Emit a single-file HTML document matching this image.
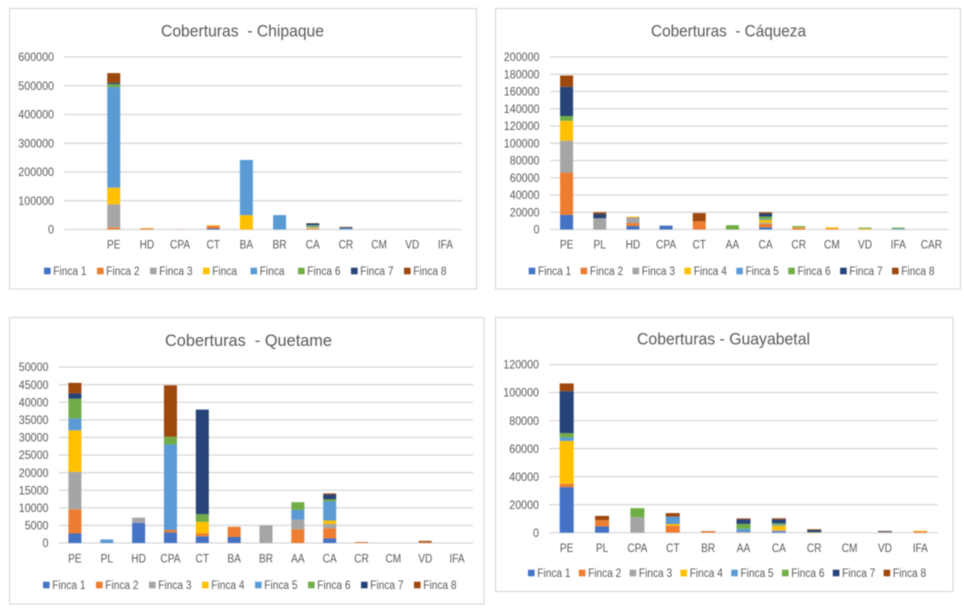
<!DOCTYPE html>
<html lang="es">
<head>
<meta charset="utf-8">
<title>Coberturas</title>
<style>
html,body{margin:0;padding:0;background:#fff;width:964px;height:616px;overflow:hidden}
svg{display:block;filter:blur(0.45px)}
text{font-family:"Liberation Sans",sans-serif;fill:#595959;white-space:pre}
</style>
</head>
<body>
<svg id="board" width="964" height="616" viewBox="0 0 964 616" xmlns="http://www.w3.org/2000/svg"></svg>
<script>
// ---- Chipaque ----
const chipaqueCategories = ['', 'PE', 'HD', 'CPA', 'CT', 'BA', 'BR', 'CA', 'CR', 'CM', 'VD', 'IFA'];
const chipaqueTicks = [0, 100000, 200000, 300000, 400000, 500000, 600000];
const chipaqueLegend = ['Finca 1', 'Finca 2', 'Finca 3', 'Finca', 'Finca', 'Finca 6', 'Finca 7', 'Finca 8'];
const chipaqueF1 = [0, 500, 0, 0, 3500, 0, 0, 0, 0, 0, 0, 0];
const chipaqueF2 = [0, 7000, 4000, 500, 9500, 0, 0, 2500, 0, 0, 0, 0];
const chipaqueF3 = [0, 80000, 0, 0, 0, 0, 0, 2000, 0, 0, 0, 0];
const chipaqueF4 = [0, 58000, 1000, 0, 2000, 50000, 0, 3500, 0, 0, 0, 0];
const chipaqueF5 = [0, 350000, 0, 0, 0, 192000, 50000, 4000, 5000, 0, 0, 0];
const chipaqueF6 = [0, 10000, 0, 0, 0, 0, 0, 3000, 0, 0, 0, 0];
const chipaqueF7 = [0, 4500, 0, 0, 0, 0, 0, 6000, 2000, 0, 0, 0];
const chipaqueF8 = [0, 34000, 0, 0, 0, 0, 0, 1000, 2000, 0, 0, 0];

// ---- Caqueza ----
const caquezaCategories = ['PE', 'PL', 'HD', 'CPA', 'CT', 'AA', 'CA', 'CR', 'CM', 'VD', 'IFA', 'CAR'];
const caquezaTicks = [0, 20000, 40000, 60000, 80000, 100000, 120000, 140000, 160000, 180000, 200000];
const caquezaLegend = ['Finca 1', 'Finca 2', 'Finca 3', 'Finca 4', 'Finca 5', 'Finca 6', 'Finca 7', 'Finca 8'];
const caquezaF1 = [17000, 0, 4000, 4500, 0, 0, 2500, 0, 0, 0, 0, 0];
const caquezaF2 = [49000, 0, 3500, 0, 9500, 0, 4000, 2000, 1000, 0, 0, 0];
const caquezaF3 = [37000, 13000, 6500, 0, 0, 0, 1500, 0, 0, 0, 0, 0];
const caquezaF4 = [23000, 0, 1000, 0, 0, 0, 3000, 500, 1500, 1000, 0, 0];
const caquezaF5 = [0, 0, 0, 0, 0, 0, 1000, 0, 0, 0, 1000, 0];
const caquezaF6 = [5500, 0, 0, 0, 0, 5000, 3000, 1500, 0, 1200, 1200, 0];
const caquezaF7 = [34000, 5000, 0, 0, 0, 0, 3500, 0, 0, 0, 0, 0];
const caquezaF8 = [13000, 2000, 0, 0, 9500, 0, 1500, 0, 0, 0, 0, 0];

// ---- Quetame ----
const quetameCategories = ['PE', 'PL', 'HD', 'CPA', 'CT', 'BA', 'BR', 'AA', 'CA', 'CR', 'CM', 'VD', 'IFA'];
const quetameTicks = [0, 5000, 10000, 15000, 20000, 25000, 30000, 35000, 40000, 45000, 50000];
const quetameLegend = ['Finca 1', 'Finca 2', 'Finca 3', 'Finca 4', 'Finca 5', 'Finca 6', 'Finca 7', 'Finca 8'];
const quetameF1 = [2700, 0, 5700, 3000, 1900, 1700, 0, 0, 1300, 0, 0, 0, 0];
const quetameF2 = [6900, 0, 0, 700, 800, 2900, 0, 3900, 2900, 150, 0, 200, 0];
const quetameF3 = [10600, 0, 1500, 0, 0, 0, 5000, 2700, 1200, 0, 0, 0, 0];
const quetameF4 = [11800, 0, 0, 0, 3300, 0, 0, 0, 1000, 0, 0, 0, 0];
const quetameF5 = [3400, 1000, 0, 24300, 0, 0, 0, 2800, 5400, 0, 0, 0, 0];
const quetameF6 = [5600, 0, 0, 2200, 2200, 0, 0, 2200, 600, 0, 0, 0, 0];
const quetameF7 = [1500, 0, 0, 0, 29700, 0, 0, 0, 1400, 0, 0, 0, 0];
const quetameF8 = [3000, 0, 0, 14600, 0, 0, 0, 0, 300, 100, 0, 400, 0];

// ---- Guayabetal ----
const guayabetalCategories = ['PE', 'PL', 'CPA', 'CT', 'BR', 'AA', 'CA', 'CR', 'CM', 'VD', 'IFA'];
const guayabetalTicks = [0, 20000, 40000, 60000, 80000, 100000, 120000];
const guayabetalLegend = ['Finca 1', 'Finca 2', 'Finca 3', 'Finca 4', 'Finca 5', 'Finca 6', 'Finca 7', 'Finca 8'];
const guayabetalF1 = [32500, 4500, 0, 0, 0, 0, 800, 0, 0, 0, 0];
const guayabetalF2 = [2500, 4500, 0, 5000, 800, 300, 0, 0, 0, 0, 1000];
const guayabetalF3 = [0, 0, 11000, 0, 0, 0, 1000, 0, 0, 500, 0];
const guayabetalF4 = [30500, 0, 0, 1200, 0, 0, 3200, 300, 0, 0, 400];
const guayabetalF5 = [2500, 0, 0, 5300, 0, 2500, 700, 0, 0, 0, 0];
const guayabetalF6 = [3000, 0, 6500, 0, 0, 3500, 1000, 0, 0, 0, 0];
const guayabetalF7 = [30000, 0, 0, 0, 0, 3200, 2800, 1700, 0, 500, 0];
const guayabetalF8 = [5500, 3000, 0, 2500, 300, 700, 800, 500, 0, 300, 0];

const seriesColors = ['#4472C4', '#ED7D31', '#A5A5A5', '#FFC000', '#5B9BD5', '#70AD47', '#264478', '#9E480E'];

const charts = [
  { key: 'chipaque', title: 'Coberturas  - Chipaque', titleX: 161, titleW: 163, titleY: 36.5,
    frame: [9.5, 8.5, 467, 280.5], plot: [64, 57, 462, 229.5], barW: 13, tickRight: 54, catY: 248.5,
    cats: chipaqueCategories, ticks: chipaqueTicks, legend: chipaqueLegend,
    series: [chipaqueF1, chipaqueF2, chipaqueF3, chipaqueF4, chipaqueF5, chipaqueF6, chipaqueF7, chipaqueF8],
    legendX: 44, legendStep: 53, legendY: 271 },
  { key: 'caqueza', title: 'Coberturas  - Cáqueza', titleX: 651, titleW: 155, titleY: 36.5,
    frame: [495.5, 8.5, 465, 280.5], plot: [550, 57, 948, 229.5], barW: 13, tickRight: 539.5, catY: 248.5,
    cats: caquezaCategories, ticks: caquezaTicks, legend: caquezaLegend,
    series: [caquezaF1, caquezaF2, caquezaF3, caquezaF4, caquezaF5, caquezaF6, caquezaF7, caquezaF8],
    legendX: 528.7, legendStep: 51.9, legendY: 271 },
  { key: 'quetame', title: 'Coberturas  - Quetame', titleX: 165, titleW: 167, titleY: 346,
    frame: [9.5, 317.5, 474.5, 286.5], plot: [59, 367, 473, 543], barW: 13, tickRight: 48.5, catY: 562.5,
    cats: quetameCategories, ticks: quetameTicks, legend: quetameLegend,
    series: [quetameF1, quetameF2, quetameF3, quetameF4, quetameF5, quetameF6, quetameF7, quetameF8],
    legendX: 43, legendStep: 53, legendY: 585 },
  { key: 'guayabetal', title: 'Coberturas - Guayabetal', titleX: 637, titleW: 173, titleY: 344.5,
    frame: [495.5, 317.5, 457.5, 274], plot: [549, 364.5, 938, 532.7], barW: 14, tickRight: 539, catY: 552,
    cats: guayabetalCategories, ticks: guayabetalTicks, legend: guayabetalLegend,
    series: [guayabetalF1, guayabetalF2, guayabetalF3, guayabetalF4, guayabetalF5, guayabetalF6, guayabetalF7, guayabetalF8],
    legendX: 528, legendStep: 50.8, legendY: 573 }
];

const SVG_NS = 'http://www.w3.org/2000/svg';
const board = document.getElementById('board');

function make(parent, tag, attrs) {
  const node = document.createElementNS(SVG_NS, tag);
  Object.keys(attrs).forEach(function (k) { node.setAttribute(k, attrs[k]); });
  parent.appendChild(node);
  return node;
}

function label(parent, str, x, y, size, anchor, squeeze) {
  const t = make(parent, 'text', { x: x, y: y, 'font-size': size, 'text-anchor': anchor });
  t.textContent = str;
  if (str.trim() && squeeze) {
    t.setAttribute('textLength', (t.getComputedTextLength() * squeeze).toFixed(2));
    t.setAttribute('lengthAdjust', 'spacingAndGlyphs');
  }
  return t;
}

function drawChart(c) {
  const left = c.plot[0], top = c.plot[1], right = c.plot[2], bottom = c.plot[3];
  const maxTick = c.ticks[c.ticks.length - 1];
  const yScale = function (v) { return bottom - (v / maxTick) * (bottom - top); };
  const band = (right - left) / c.cats.length;
  const xCenter = function (i) { return left + band * (i + 0.5); };

  const g = make(board, 'g', {});
  
  

  const frame = make(g, 'rect', { x: c.frame[0], y: c.frame[1], width: c.frame[2], height: c.frame[3], fill: '#fff', stroke: '#D4D4D4', 'stroke-width': 1 });
  
  

  const title = make(g, 'text', { x: c.titleX, y: c.titleY, 'font-size': 17, textLength: c.titleW, lengthAdjust: 'spacingAndGlyphs' });
  title.textContent = c.title;
  
  

  c.ticks.forEach(function (tick) {
    const y = yScale(tick);
    const line = make(g, 'line', { x1: left, x2: right, y1: y, y2: y, stroke: '#D6D6D6', 'stroke-width': 1.2 });
    
    
    const text = label(g, String(tick), c.tickRight, y + 4.2, 11.5, 'end', 0.93);
    
    
  });

  c.cats.forEach(function (cat, i) {
    if (!cat) return;
    const text = label(g, cat, xCenter(i), c.catY, 11.5, 'middle', 0.88);
    
    
  });

  c.cats.forEach(function (cat, i) {
    let running = 0;
    c.series.forEach(function (values, s) {
      const v = values[i];
      if (!v) return;
      const yTop = yScale(running + v);
      const yBottom = yScale(running);
      running += v;
      const bar = make(g, 'rect', { x: xCenter(i) - c.barW / 2, y: yTop, width: c.barW, height: yBottom - yTop, fill: seriesColors[s] });
      
      
    });
  });

  let lx = c.legendX;
  c.legend.forEach(function (name, s) {
    const swatch = make(g, 'rect', { x: lx, y: c.legendY - 3.3, width: 6.6, height: 6.6, fill: seriesColors[s] });
    
    
    const text = label(g, name, lx + 9.3, c.legendY + 4.2, 11.5, 'start', 0.88);
    
    
    lx += name.length === 5 ? 47.5 : c.legendStep;
  });
}

charts.forEach(drawChart);
</script>
</body>
</html>
